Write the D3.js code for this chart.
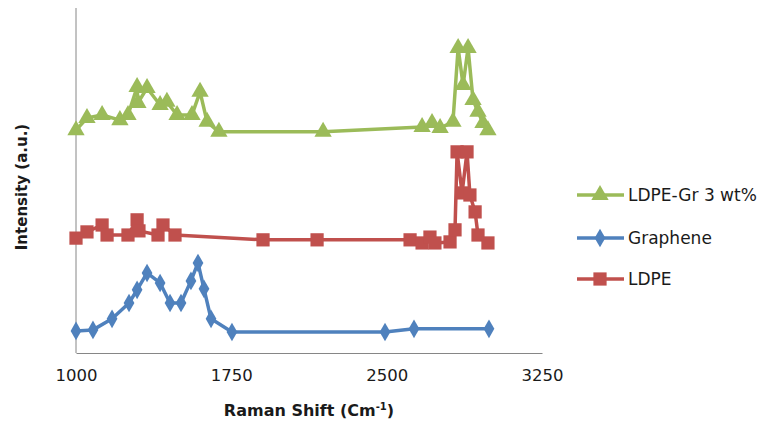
<!DOCTYPE html>
<html>
<head>
<meta charset="utf-8">
<script src="https://cdn.jsdelivr.net/npm/d3@7"></script>
<style>
  body { margin: 0; background: #fff; }
  text { font-family: "DejaVu Sans", sans-serif; fill: #1a1a1a; }
</style>
</head>
<body>
<div id="chart"></div>
<script>
var width = 769;
var height = 430;

// Raman spectra (intensity in arbitrary units, offset per series)
var gr_shift = [1000, 1082, 1174, 1256, 1295, 1343, 1406, 1454, 1507, 1555, 1589, 1618, 1652, 1753, 2492, 2632, 2994];
var gr_int   = [6.4, 6.7, 9.9, 14.5, 18.3, 23.2, 20.3, 14.5, 14.5, 20.9, 26.1, 18.6, 9.9, 6.1, 6.1, 7.0, 7.0];

var ldpe_shift = [1000, 1053, 1126, 1150, 1251, 1295, 1304, 1396, 1420, 1478, 1903, 2164, 2613, 2671, 2709, 2733, 2806, 2830, 2840, 2864, 2888, 2902, 2927, 2941, 2989];
var ldpe_int   = [33.3, 35.1, 37.1, 34.2, 34.2, 38.6, 35.4, 34.2, 37.1, 34.2, 32.8, 32.8, 32.8, 31.9, 33.6, 31.9, 32.2, 35.7, 58.3, 46.4, 58.3, 45.8, 40.9, 34.2, 31.9];

var comp_shift = [1000, 1053, 1126, 1212, 1251, 1295, 1299, 1343, 1406, 1439, 1488, 1560, 1599, 1633, 1690, 2193, 2671, 2719, 2758, 2820, 2845, 2869, 2893, 2917, 2941, 2965, 2989];
var comp_int   = [64.6, 68.1, 69.0, 67.5, 69.0, 77.1, 72.5, 76.8, 71.9, 72.8, 69.0, 69.0, 75.7, 67.0, 64.1, 64.1, 65.5, 66.7, 65.2, 67.0, 88.4, 77.7, 88.4, 73.3, 69.9, 66.7, 64.6];

var x_ticks = [1000, 1750, 2500, 3250];

var svg = d3.select("#chart").append("svg").attr("width", width).attr("height", height);

var x = d3.scaleLinear().domain([1000, 3250]).range([76, 542]);
var y = d3.scaleLinear().domain([0, 100]).range([353, 8]);

function zip(xs, ys) {
    return xs.map(function(v, i) { return { x: v, y: ys[i] }; });
}

var series = [
    { name: "LDPE-Gr 3 wt%", color: "#9BBB59", sym: d3.symbolTriangle, size: 130, data: zip(comp_shift, comp_int), ly: 195 },
    { name: "Graphene",      color: "#4F81BD", sym: d3.symbolDiamond,  size: 100, data: zip(gr_shift, gr_int),     ly: 238 },
    { name: "LDPE",          color: "#C0504D", sym: d3.symbolSquare,   size: 175, data: zip(ldpe_shift, ldpe_int), ly: 279 }
];

// axes
var axis_colour = "#868686";
svg.append("line").attr("x1", 76).attr("y1", 8).attr("x2", 76).attr("y2", 353)
   .attr("stroke", axis_colour).attr("stroke-width", 1);

var xAxis = svg.append("g").attr("transform", "translate(0,353)")
   .call(d3.axisBottom(x).tickValues(x_ticks).tickSize(0).tickPadding(16).tickFormat(d3.format("d")));
xAxis.select(".domain").attr("stroke", axis_colour);
xAxis.selectAll("text").attr("font-size", 16.5).attr("fill", "#1a1a1a")
   .attr("font-family", "DejaVu Sans, sans-serif");

svg.append("text").attr("x", 309).attr("y", 416).attr("text-anchor", "middle")
   .attr("font-size", 16).attr("font-weight", "bold")
   .html('Raman Shift (Cm<tspan dy="-6" font-size="10">-1</tspan><tspan dy="6">)</tspan>');

svg.append("text").attr("transform", "translate(27,187) rotate(-90)")
   .attr("text-anchor", "middle").attr("font-size", 15).attr("font-weight", "bold")
   .text("Intensity (a.u.)");

// lines + markers
var line = d3.line().x(function(d){ return x(d.x); }).y(function(d){ return y(d.y); });

series.forEach(function(s) {
    var g = svg.append("g");
    g.append("path").datum(s.data).attr("d", line)
     .attr("fill", "none").attr("stroke", s.color).attr("stroke-width", 3.5)
     .attr("stroke-linejoin", "round");
    g.selectAll("path.m").data(s.data).enter().append("path").attr("class", "m")
     .attr("d", d3.symbol().type(s.sym).size(s.size))
     .attr("transform", function(d){ return "translate(" + x(d.x) + "," + y(d.y) + ")"; })
     .attr("fill", s.color);
});

// legend
var legend = svg.append("g");
series.forEach(function(s) {
    legend.append("line").attr("x1", 577).attr("x2", 624).attr("y1", s.ly).attr("y2", s.ly)
        .attr("stroke", s.color).attr("stroke-width", 3.5);
    legend.append("path").attr("d", d3.symbol().type(s.sym).size(s.size))
        .attr("transform", "translate(600," + s.ly + ")").attr("fill", s.color);
    legend.append("text").attr("x", 628).attr("y", s.ly + 6).attr("font-size", 17).text(s.name);
});
</script>
</body>
</html>
